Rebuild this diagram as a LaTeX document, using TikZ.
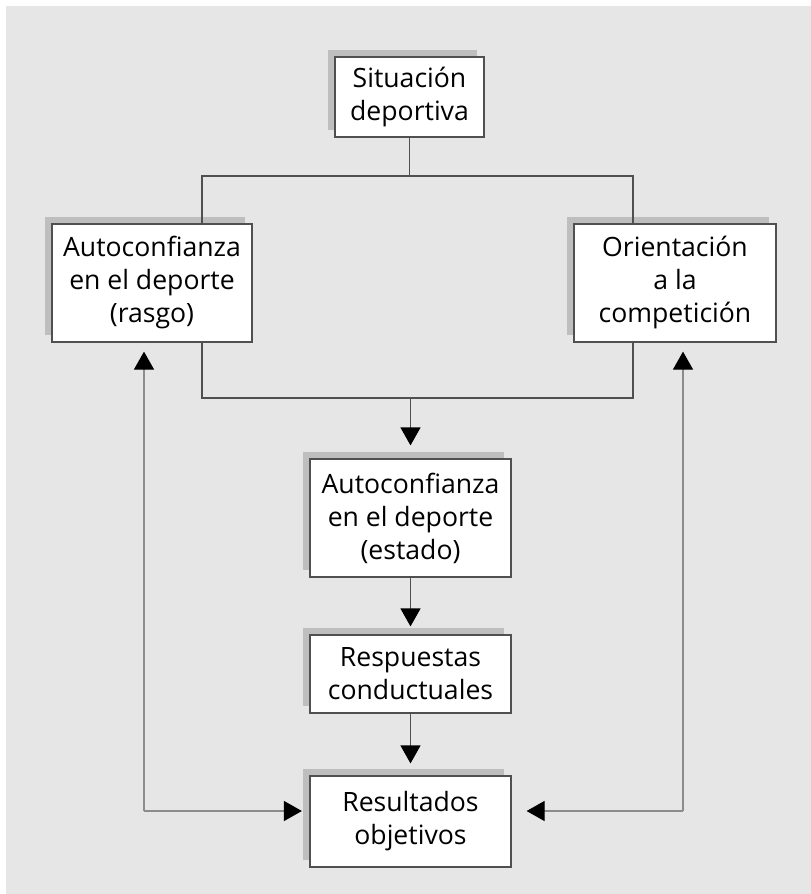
\documentclass[tikz,border=0pt]{standalone}
\usepackage{fontspec}
\setmainfont{Open Sans}
\usetikzlibrary{arrows.meta,shadows,calc}
\definecolor{bggray}{HTML}{E6E6E6}
\definecolor{shgray}{HTML}{BEBEBE}
\definecolor{edgegray}{HTML}{505050}
\definecolor{sidegray}{HTML}{8C8C8C}
\tikzset{
  box/.style={draw=edgegray, line width=1.2pt, fill=white, align=center,
    inner sep=0pt, font=\fontsize{26.6}{33}\selectfont,
    general shadow={fill=shgray, shadow xshift=-7.5pt, shadow yshift=7.5pt}},
  conn/.style={draw=edgegray, line width=1.2pt},
  side/.style={draw=sidegray, line width=1.2pt},
  arr/.style={-{Triangle[width=20pt,length=18pt,color=black]}}
}
\begin{document}
\begin{tikzpicture}[x=1pt,y=-1pt]
\useasboundingbox (0,0) rectangle (811,894);
\fill[white] (0,0) rectangle (811,894);
\fill[bggray] (6,6) rectangle (811,894);

\node[box, minimum width=149pt, minimum height=80pt] (sit) at (409.5,97) {Situación\\deportiva};
\node[box, minimum width=200pt, minimum height=118pt] (rasgo) at (152,283) {Autoconfianza\\en el deporte\\(rasgo)};
\node[box, minimum width=202pt, minimum height=118pt] (comp) at (675,283) {Orientación\\a la\\competición};
\node[box, minimum width=201pt, minimum height=118pt] (estado) at (410.5,518) {Autoconfianza\\en el deporte\\(estado)};
\node[box, minimum width=201pt, minimum height=78pt] (resp) at (410.5,674) {Respuestas\\conductuales};
\node[box, minimum width=201pt, minimum height=91pt] (res) at (410.5,821.5) {Resultados\\objetivos};

\coordinate (tl) at (202,176);
\coordinate (tr) at (633,176);
\coordinate (bl) at (202,398);
\coordinate (br) at (633,398);
\coordinate (lc) at (144,811);
\coordinate (rc) at (683,811);

\draw[conn] (sit.south) -- (sit.south |- tl);
\draw[conn] (rasgo.north -| tl) -- (tl) -- (tr) -- (comp.north -| tr);
\draw[conn] (rasgo.south -| bl) -- (bl) -- (br) -- (comp.south -| br);
\draw[conn, arr, shorten >=13pt] (estado.north |- bl) -- (estado.north);
\draw[conn, arr, shorten >=8pt] (estado.south) -- (resp.north);
\draw[conn, arr, shorten >=12pt] (resp.south) -- (res.north);

\draw[side, arr, shorten >=9pt] (lc) -- (rasgo.south -| lc);
\draw[side, arr, shorten >=7.5pt] (lc) -- (res.west |- lc);
\draw[side, arr, shorten >=9pt] (rc) -- (comp.south -| rc);
\draw[side, arr, shorten >=15pt] (rc) -- (res.east |- rc);
\end{tikzpicture}
\end{document}
